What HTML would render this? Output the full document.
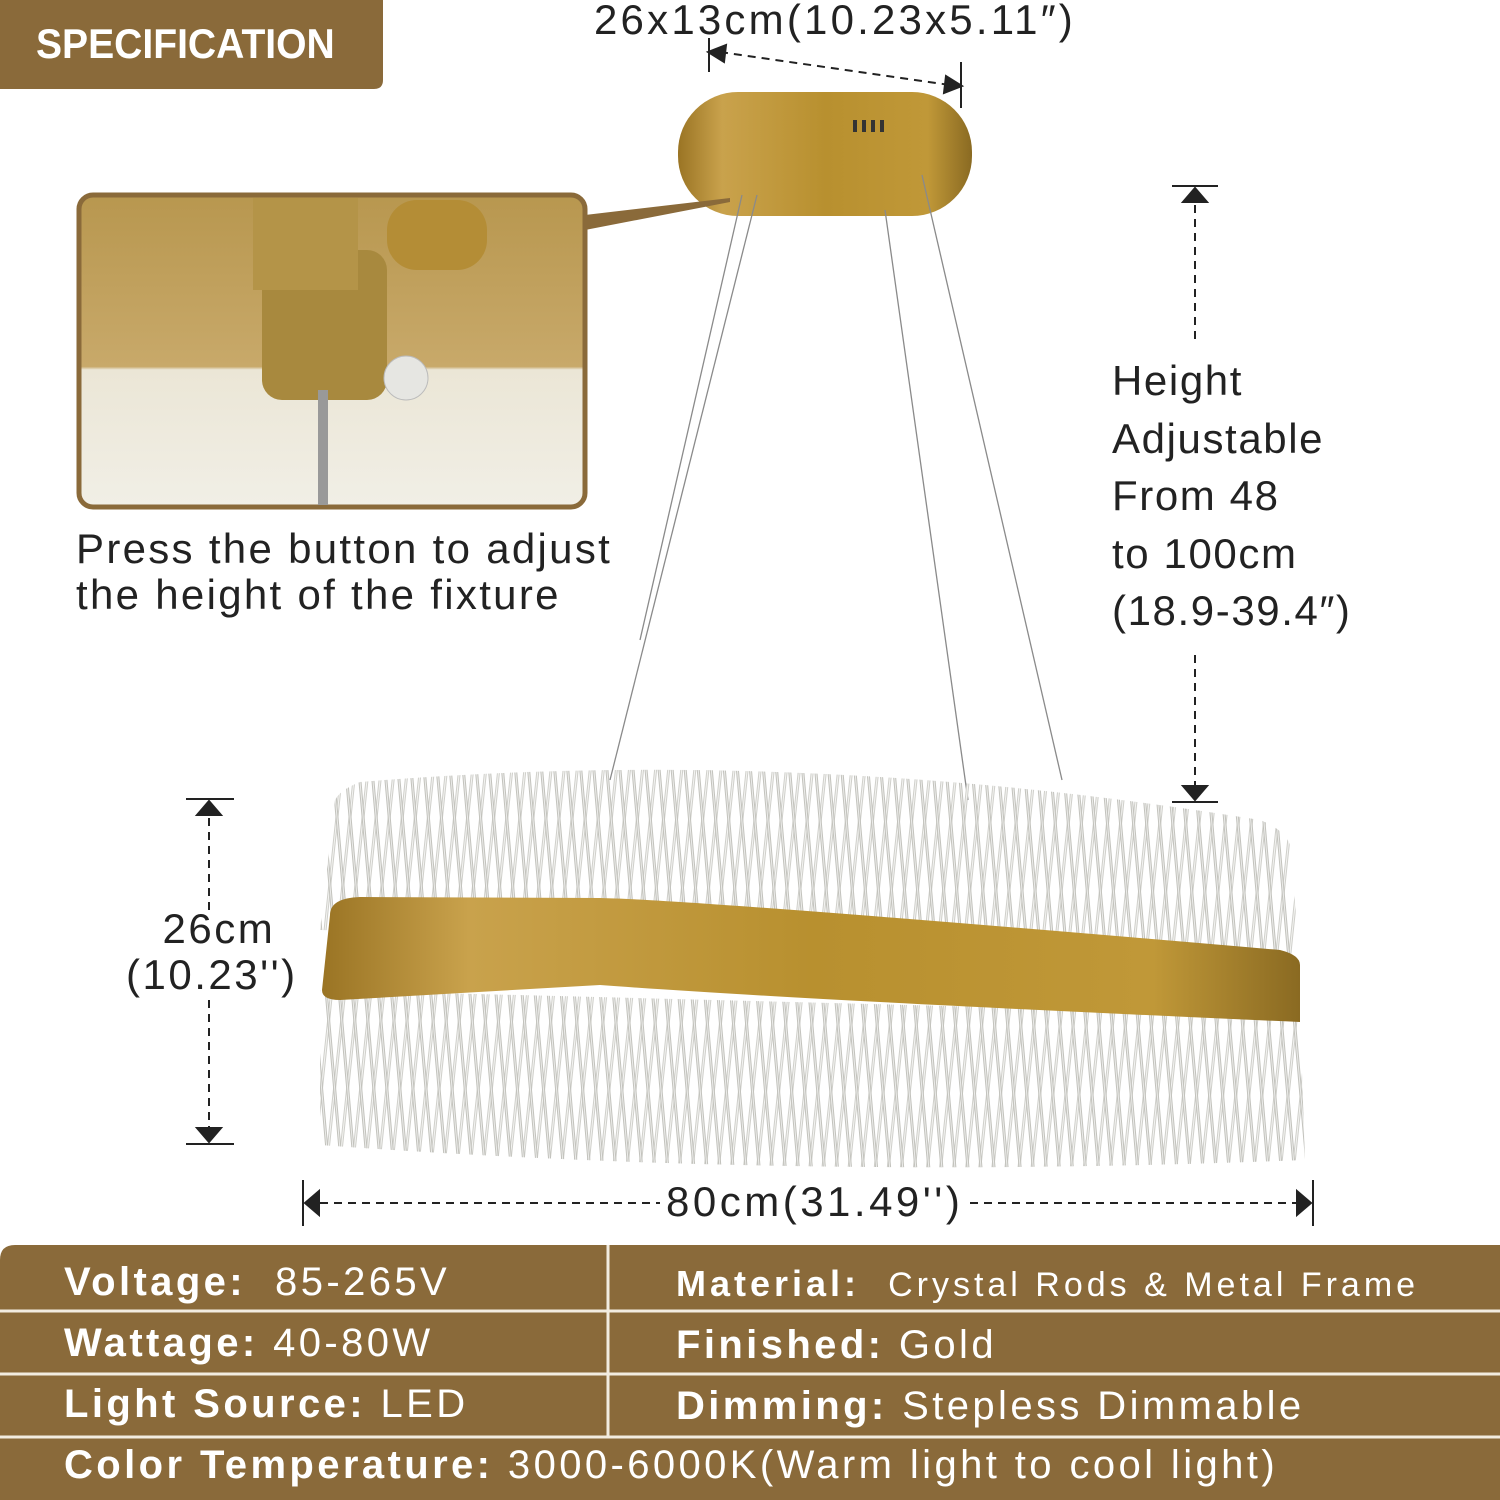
<!DOCTYPE html>
<html><head><meta charset="utf-8"><style>
body{margin:0;width:1500px;height:1500px;background:#fff;overflow:hidden;position:relative;font-family:"Liberation Sans",sans-serif}
.t{position:absolute;color:#222;white-space:nowrap}
</style></head><body>
<svg width="1500" height="1500" style="position:absolute;left:0;top:0">
<defs>
<pattern id="ra" width="13" height="50" patternUnits="userSpaceOnUse" patternTransform="rotate(6)">
<rect x="3" y="0" width="3" height="50" fill="#cfcfca"/><rect x="4" y="0" width="1" height="50" fill="#f4f4f2"/>
</pattern>
<pattern id="rb" width="13" height="50" patternUnits="userSpaceOnUse" patternTransform="rotate(-5)">
<rect x="3" y="0" width="3" height="50" fill="#c2c2bc"/><rect x="4" y="0" width="1" height="50" fill="#ececea"/>
</pattern>
<linearGradient id="gold" x1="0" x2="1" y1="0" y2="0">
<stop offset="0" stop-color="#9a7424"/><stop offset=".15" stop-color="#c9a24c"/><stop offset=".5" stop-color="#b8902f"/><stop offset=".85" stop-color="#c09838"/><stop offset="1" stop-color="#8a6a22"/></linearGradient>
<linearGradient id="ins" x1="0" x2="0" y1="0" y2="1"><stop offset="0" stop-color="#b8974f"/><stop offset=".55" stop-color="#c8a96a"/><stop offset=".56" stop-color="#ebe6d6"/><stop offset="1" stop-color="#f1efe6"/></linearGradient>
</defs>
<path d="M0 0H383V80Q383 89 374 89H0Z" fill="#8a6a3a"/>
<rect x="678" y="92" width="294" height="124" rx="60" fill="url(#gold)"/>
<rect x="853" y="120" width="4" height="12" fill="#333"/><rect x="862" y="120" width="4" height="12" fill="#333"/><rect x="871" y="120" width="4" height="12" fill="#333"/><rect x="880" y="120" width="4" height="12" fill="#333"/>
<g stroke="#8a8a8a" stroke-width="1.3" fill="none">
<line x1="742" y1="195" x2="640" y2="640"/><line x1="757" y1="195" x2="610" y2="780"/>
<line x1="885" y1="210" x2="968" y2="800"/><line x1="922" y1="175" x2="1062" y2="780"/>
</g>
<polygon points="585,215 730,198 730,202 585,230" fill="#8a6a3a"/>
<rect x="79" y="195" width="506" height="312" rx="14" fill="url(#ins)" stroke="#8a6a3a" stroke-width="5"/>
<rect x="262" y="250" width="125" height="150" rx="20" fill="#a8893e"/>
<rect x="253" y="198" width="105" height="92" fill="#b49448"/>
<rect x="318" y="390" width="10" height="115" fill="#999"/>
<rect x="387" y="200" width="100" height="70" rx="30" fill="#b48d36"/>
<circle cx="406" cy="378" r="22" fill="#e6e6e2" stroke="#bbb"/>
<g>
<path d="M335 800 Q340 790 360 782 Q800 745 1260 820 Q1285 830 1290 845 L1300 960 L320 930Z" fill="url(#ra)"/>
<path d="M335 800 Q340 790 360 782 Q800 745 1260 820 Q1285 830 1290 845 L1300 960 L320 930Z" fill="url(#rb)"/>
<path d="M320 990 L1300 1015 L1305 1160 Q800 1180 320 1145Z" fill="url(#ra)"/>
<path d="M320 990 L1300 1015 L1305 1160 Q800 1180 320 1145Z" fill="url(#rb)"/>
</g>
<path d="M330 915 Q330 898 360 897 L600 898 Q700 900 1280 950 Q1300 955 1300 965 L1300 1022 Q800 1000 600 985 L340 1000 Q322 1000 322 990Z" fill="url(#gold)"/>
<g stroke="#222" stroke-width="2" fill="#222">
<line x1="709" y1="38" x2="709" y2="72"/><line x1="961" y1="62" x2="961" y2="108"/>
<line x1="720" y1="52" x2="950" y2="85" stroke-dasharray="8 6"/>
<polygon points="708,52 726,45 724,62" /><polygon points="962,86 944,93 946,76"/>
<line x1="1172" y1="186" x2="1218" y2="186"/><polygon points="1195,188 1183,202 1207,202"/>
<line x1="1195" y1="205" x2="1195" y2="340" stroke-dasharray="8 6"/>
<line x1="1195" y1="655" x2="1195" y2="785" stroke-dasharray="8 6"/>
<polygon points="1195,800 1183,786 1207,786"/><line x1="1172" y1="802" x2="1218" y2="802"/>
<line x1="186" y1="799" x2="234" y2="799"/><polygon points="209,801 197,815 221,815"/>
<line x1="209" y1="818" x2="209" y2="910" stroke-dasharray="8 6"/>
<line x1="209" y1="1000" x2="209" y2="1128" stroke-dasharray="8 6"/>
<polygon points="209,1142 197,1128 221,1128"/><line x1="186" y1="1144" x2="234" y2="1144"/>
<line x1="303" y1="1180" x2="303" y2="1226"/><polygon points="305,1203 319,1191 319,1215"/>
<line x1="320" y1="1203" x2="660" y2="1203" stroke-dasharray="8 6"/>
<line x1="970" y1="1203" x2="1296" y2="1203" stroke-dasharray="8 6"/>
<polygon points="1311,1203 1297,1191 1297,1215"/><line x1="1313" y1="1180" x2="1313" y2="1226"/>
</g>
<path d="M0 1260Q0 1245 15 1245H1500V1500H0Z" fill="#8a6a3a"/>
<g stroke="#f2ece0" stroke-width="3">
<line x1="0" y1="1311" x2="1500" y2="1311"/><line x1="0" y1="1374" x2="1500" y2="1374"/><line x1="0" y1="1437" x2="1500" y2="1437"/>
<line x1="608" y1="1245" x2="608" y2="1437"/>
</g>
</svg>
<div class="t" style="left:36px;top:20px;font-size:42px;font-weight:bold;color:#fff;transform:scaleX(.93);transform-origin:left">SPECIFICATION</div>
<div class="t" style="left:594px;top:-4px;font-size:42px;letter-spacing:3.2px">26x13cm(10.23x5.11″)</div>
<div class="t" style="left:76px;top:526px;font-size:42px;line-height:46px;letter-spacing:2.3px">Press the button to adjust<br>the height of the fixture</div>
<div class="t" style="left:1112px;top:352px;font-size:42px;line-height:57.5px;letter-spacing:1.6px">Height<br>Adjustable<br>From 48<br>to 100cm<br>(18.9-39.4″)</div>
<div class="t" style="left:126px;top:906px;font-size:42px;line-height:46px;text-align:center;letter-spacing:2.5px">&nbsp;26cm<br>(10.23'')</div>
<div class="t" style="left:666px;top:1178px;font-size:42px;letter-spacing:3.5px">80cm(31.49'')</div>
<div class="t" style="left:64px;top:1260px;font-size:40px;color:#fff;letter-spacing:3.4px"><b>Voltage:</b>&nbsp; 85-265V</div>
<div class="t" style="left:64px;top:1321px;font-size:40px;color:#fff;letter-spacing:3.4px"><b>Wattage:</b> 40-80W</div>
<div class="t" style="left:64px;top:1382px;font-size:40px;color:#fff;letter-spacing:3.4px"><b>Light Source:</b> LED</div>
<div class="t" style="left:64px;top:1443px;font-size:40px;color:#fff;letter-spacing:3.4px"><b>Color Temperature:</b> 3000-6000K(Warm light to cool light)</div>
<div class="t" style="left:676px;top:1263px;font-size:36px;color:#fff;letter-spacing:4px"><b>Material:</b>&nbsp; <span style="font-size:34px">Crystal Rods &amp; Metal Frame</span></div>
<div class="t" style="left:676px;top:1323px;font-size:40px;color:#fff;letter-spacing:3.4px"><b>Finished:</b> Gold</div>
<div class="t" style="left:676px;top:1384px;font-size:40px;color:#fff;letter-spacing:3.4px"><b>Dimming:</b> Stepless Dimmable</div>
</body></html>
